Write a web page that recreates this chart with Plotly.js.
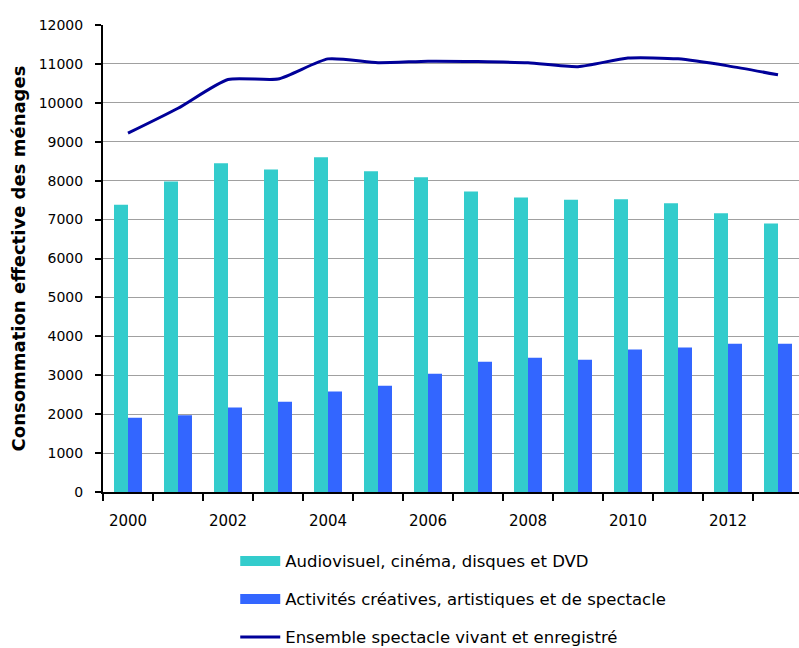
<!DOCTYPE html>
<html>
<head>
<meta charset="utf-8">
<script src="https://cdn.plot.ly/plotly-3.0.1.min.js"></script>
<style>
  html, body { margin: 0; padding: 0; background: #ffffff; overflow: hidden; }
  #chart { width: 799px; height: 648px; }
</style>
</head>
<body>
<div id="chart"></div>
<script>
// Household spending on live and recorded entertainment, 2000-2013
const years = [2000, 2001, 2002, 2003, 2004, 2005, 2006, 2007, 2008, 2009, 2010, 2011, 2012, 2013];
const audiovisuel = [7380, 7980, 8450, 8290, 8600, 8240, 8090, 7720, 7570, 7510, 7520, 7420, 7160, 6900];
const activites = [1910, 1970, 2170, 2320, 2580, 2730, 3040, 3350, 3450, 3400, 3660, 3710, 3810, 3810];
const ensemble = [9220, 9860, 10600, 10610, 11130, 11030, 11070, 11060, 11030, 10930, 11150, 11130, 10950, 10720];

const nameAudiovisuel = 'Audiovisuel, cinéma, disques et DVD';
const nameActivites = 'Activités créatives, artistiques et de spectacle';
const nameEnsemble = 'Ensemble spectacle vivant et enregistré';
const yTitle = 'Consommation effective des ménages';
const xTickYears = [2000, 2002, 2004, 2006, 2008, 2010, 2012];

const cyan = '#33cccc';
const blue = '#3366ff';
const navy = '#000099';
const font = 'DejaVu Sans, Verdana, sans-serif';

const traces = [
  {
    type: 'bar', x: years, y: audiovisuel, name: nameAudiovisuel,
    marker: { color: cyan, line: { width: 0 } },
    legendgroup: 'a', showlegend: false, hoverinfo: 'x+y'
  },
  {
    type: 'bar', x: years, y: activites, name: nameActivites,
    marker: { color: blue, line: { width: 0 } },
    legendgroup: 'b', showlegend: false, hoverinfo: 'x+y'
  },
  {
    type: 'scatter', mode: 'lines', x: years, y: ensemble, name: nameEnsemble,
    line: { color: navy, width: 3, shape: 'spline', smoothing: 0.6 },
    legendgroup: 'c', legendrank: 3
  },
  // wide swatches for the bar series in the legend
  {
    type: 'scatter', mode: 'lines', x: [null], y: [null], name: nameAudiovisuel,
    line: { color: cyan, width: 11 }, legendgroup: 'a', legendrank: 1, hoverinfo: 'skip'
  },
  {
    type: 'scatter', mode: 'lines', x: [null], y: [null], name: nameActivites,
    line: { color: blue, width: 11 }, legendgroup: 'b', legendrank: 2, hoverinfo: 'skip'
  }
];

const layout = {
  width: 799,
  height: 648,
  margin: { l: 103, r: 0, t: 25, b: 156, pad: 0, autoexpand: false },
  paper_bgcolor: '#ffffff',
  plot_bgcolor: '#ffffff',
  font: { family: font, color: '#000000', size: 14 },
  barmode: 'group',
  bargap: 0.44,
  bargroupgap: 0,
  showlegend: true,
  xaxis: {
    type: 'linear',
    range: [1999.5, 2013.42],
    tickmode: 'array',
    tickvals: xTickYears,
    ticktext: xTickYears.map(String),
    ticks: '',
    ticklabelstandoff: 14,
    tickfont: { family: font, size: 15, color: '#000000' },
    showgrid: false,
    zeroline: false,
    showline: true,
    linecolor: '#000000',
    linewidth: 2,
    minor: {
      ticks: 'outside', ticklen: 7, tickwidth: 2, tickcolor: '#000000',
      tick0: 1999.5, dtick: 1, showgrid: false
    },
    fixedrange: true
  },
  yaxis: {
    range: [0, 12000],
    dtick: 1000,
    tick0: 0,
    tickformat: 'd',
    ticks: 'outside',
    ticklen: 6,
    tickwidth: 2,
    tickcolor: '#000000',
    ticklabelstandoff: 9,
    tickfont: { family: font, size: 14, color: '#000000' },
    showgrid: true,
    gridcolor: '#a0a0a0',
    gridwidth: 1,
    zeroline: false,
    showline: true,
    linecolor: '#000000',
    linewidth: 2,
    title: {
      text: yTitle,
      font: { family: font, size: 18, weight: 'bold', color: '#000000' },
      standoff: 8
    },
    fixedrange: true
  },
  legend: {
    orientation: 'v',
    x: 0.19,
    xanchor: 'left',
    y: -0.111,
    yanchor: 'top',
    itemwidth: 40,
    tracegroupgap: 13.5,
    bgcolor: 'rgba(0,0,0,0)',
    borderwidth: 0,
    font: { family: font, size: 16.5, color: '#000000' }
  }
};

Plotly.newPlot('chart', traces, layout, { displayModeBar: false, staticPlot: true });
</script>
</body>
</html>
